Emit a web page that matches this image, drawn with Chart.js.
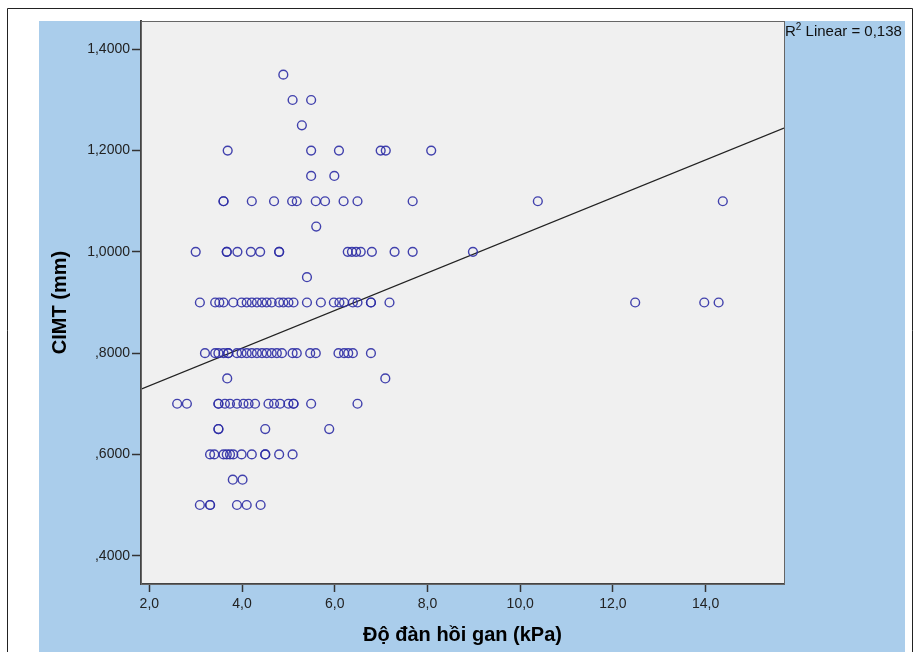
<!DOCTYPE html>
<html>
<head>
<meta charset="utf-8">
<script src="https://cdn.jsdelivr.net/npm/chart.js@4.4.0/dist/chart.umd.min.js"></script>
<style>
  html, body { margin: 0; padding: 0; background: #fff; }
  #wrap { width: 920px; height: 652px; }
</style>
</head>
<body>
<div id="wrap"><canvas id="chart" width="920" height="652"></canvas></div>
<script>
// ---------- data ----------
// CIMT levels (mm) and the liver elasticity (kPa) of each case at that level
const CIMT_LEVELS = [1.35, 1.30, 1.25, 1.20, 1.15, 1.10, 1.05, 1.00, 0.95, 0.90, 0.80, 0.75, 0.70, 0.65, 0.60, 0.55, 0.50];

const kpa135 = [4.89];
const kpa130 = [5.09, 5.49];
const kpa125 = [5.29];
const kpa120 = [3.69, 5.49, 6.09, 6.99, 7.10, 8.08];
const kpa115 = [5.49, 5.99];
const kpa110 = [3.60, 3.60, 4.21, 4.69, 5.08, 5.18, 5.59, 5.79, 6.19, 6.49, 7.68, 10.38, 14.37];
const kpa105 = [5.60];
const kpa100 = [3.00, 3.67, 3.67, 3.90, 4.19, 4.39, 4.80, 4.80, 6.28, 6.37, 6.46, 6.56, 6.80, 7.29, 7.68, 8.98];
const kpa095 = [5.40];
const kpa090 = [3.09, 3.42, 3.51, 3.60, 3.81, 3.99, 4.10, 4.21, 4.32, 4.43, 4.53, 4.64, 4.80, 4.89, 5.00, 5.11,
                5.40, 5.70, 5.98, 6.10, 6.20, 6.39, 6.49, 6.78, 6.78, 7.18, 12.48, 13.97, 14.28];
const kpa080 = [3.20, 3.42, 3.49, 3.60, 3.70, 3.70, 3.89, 3.99, 4.10, 4.21, 4.32, 4.43, 4.53, 4.64, 4.75, 4.86,
                5.09, 5.18, 5.47, 5.59, 6.08, 6.20, 6.29, 6.39, 6.78];
const kpa075 = [3.68, 7.09];
const kpa070 = [2.60, 2.81, 3.49, 3.49, 3.63, 3.74, 3.89, 4.03, 4.14, 4.28, 4.57, 4.69, 4.82, 5.00, 5.11, 5.11, 5.49, 6.49];
const kpa065 = [3.49, 3.49, 4.50, 5.88];
const kpa060 = [3.31, 3.40, 3.60, 3.67, 3.74, 3.81, 3.99, 4.21, 4.50, 4.50, 4.80, 5.09];
const kpa055 = [3.80, 4.01];
const kpa050 = [3.09, 3.31, 3.31, 3.89, 4.10, 4.40];

const KPA_BY_LEVEL = [kpa135, kpa130, kpa125, kpa120, kpa115, kpa110, kpa105, kpa100, kpa095,
                      kpa090, kpa080, kpa075, kpa070, kpa065, kpa060, kpa055, kpa050];

// linear fit shown on the chart
const FIT_INTERCEPT = 0.661;
const FIT_SLOPE = 0.0372;
const R2_LINEAR = "0,138";

// axes
const X_MIN = 1.82, X_MAX = 15.69;
const Y_MIN = 0.344, Y_MAX = 1.456;
const X_TICKS = [2, 4, 6, 8, 10, 12, 14];
const Y_TICKS = [0.4, 0.6, 0.8, 1.0, 1.2, 1.4];

const X_TITLE = "Độ đàn hồi gan (kPa)";
const Y_TITLE = "CIMT (mm)";

// ---------- build ----------
const points = [];
CIMT_LEVELS.forEach((lvl, i) => KPA_BY_LEVEL[i].forEach(x => points.push({ x, y: lvl })));
const fitLine = [X_MIN, X_MAX].map(x => ({ x, y: FIT_INTERCEPT + FIT_SLOPE * x }));

const fmtY = (v) => v.toFixed(4).replace(".", ",").replace(/^0/, "");
const fmtX = (v) => v.toFixed(1).replace(".", ",");

const FONT = "'Liberation Sans', Arial, sans-serif";
const BLUE = "#aacdeb";

// background, frame, plot box and R² label (SPSS look)
const spssFrame = {
  id: "spssFrame",
  beforeDraw(chart) {
    const { ctx, chartArea: a, width, height } = chart;
    ctx.save();
    ctx.fillStyle = "#fff";
    ctx.fillRect(0, 0, width, height);
    ctx.fillStyle = BLUE;
    ctx.fillRect(39, a.top, 866, height - a.top);
    ctx.fillStyle = "#f0f0f0";
    ctx.fillRect(a.left, a.top, a.right - a.left, a.bottom - a.top);
    // outer frame
    ctx.strokeStyle = "#222";
    ctx.lineWidth = 1;
    ctx.beginPath();
    ctx.moveTo(7.5, height); ctx.lineTo(7.5, 8.5); ctx.lineTo(912.5, 8.5); ctx.lineTo(912.5, height);
    ctx.stroke();
    ctx.restore();
  },
  afterDraw(chart) {
    const { ctx, chartArea: a } = chart;
    ctx.save();
    ctx.strokeStyle = "#666";
    ctx.lineWidth = 1;
    ctx.strokeRect(a.left + 0.5, a.top + 0.5, a.right - a.left, a.bottom - a.top);
    // R² label
    ctx.fillStyle = "#111";
    ctx.textBaseline = "alphabetic";
    ctx.font = "15px " + FONT;
    let x = a.right + 1;
    const y = a.top + 15;
    ctx.fillText("R", x, y);
    x += ctx.measureText("R").width;
    ctx.font = "10px " + FONT;
    ctx.fillText("2", x, y - 6);
    x += ctx.measureText("2").width;
    ctx.font = "15px " + FONT;
    ctx.fillText(" Linear = " + R2_LINEAR, x, y);
    ctx.restore();
  }
};

new Chart(document.getElementById("chart"), {
  type: "scatter",
  data: {
    datasets: [
      {
        label: "CIMT",
        data: points,
        pointStyle: "circle",
        pointRadius: 4.4,
        pointBorderWidth: 1.4,
        pointBorderColor: "rgba(45,45,165,0.9)",
        pointBackgroundColor: "rgba(0,0,0,0)",
        showLine: false
      },
      {
        label: "Linear",
        data: fitLine,
        showLine: true,
        borderColor: "#222",
        borderWidth: 1.3,
        pointRadius: 0
      }
    ]
  },
  options: {
    responsive: false,
    animation: false,
    layout: { padding: { left: 39, top: 21, right: 136, bottom: 0 } },
    plugins: { legend: { display: false }, tooltip: { enabled: false } },
    scales: {
      x: {
        type: "linear",
        min: X_MIN, max: X_MAX,
        afterBuildTicks: (s) => { s.ticks = X_TICKS.map(v => ({ value: v })); },
        afterFit: (s) => { s.height = 68; },
        grid: { drawOnChartArea: false, drawTicks: true, tickLength: 8, tickColor: "#333", tickWidth: 1.5 },
        border: { display: true, color: "#444", width: 2 },
        ticks: { padding: 4, color: "#222", font: { family: FONT, size: 14 }, callback: (v) => fmtX(v) },
        title: { display: true, text: X_TITLE, color: "#000", font: { family: FONT, size: 20, weight: "bold" }, padding: { top: 0, bottom: 5 } }
      },
      y: {
        type: "linear",
        min: Y_MIN, max: Y_MAX,
        afterBuildTicks: (s) => { s.ticks = Y_TICKS.map(v => ({ value: v })); },
        afterFit: (s) => { s.width = 102; },
        grid: { drawOnChartArea: false, drawTicks: true, tickLength: 9, tickColor: "#333", tickWidth: 1.5 },
        border: { display: true, color: "#444", width: 2 },
        ticks: { padding: 2, color: "#222", font: { family: FONT, size: 14 }, callback: (v) => fmtY(v) },
        title: { display: true, text: Y_TITLE, color: "#000", font: { family: FONT, size: 20, weight: "bold" }, padding: { top: 9, bottom: 0 } }
      }
    }
  },
  plugins: [spssFrame]
});
</script>
</body>
</html>
